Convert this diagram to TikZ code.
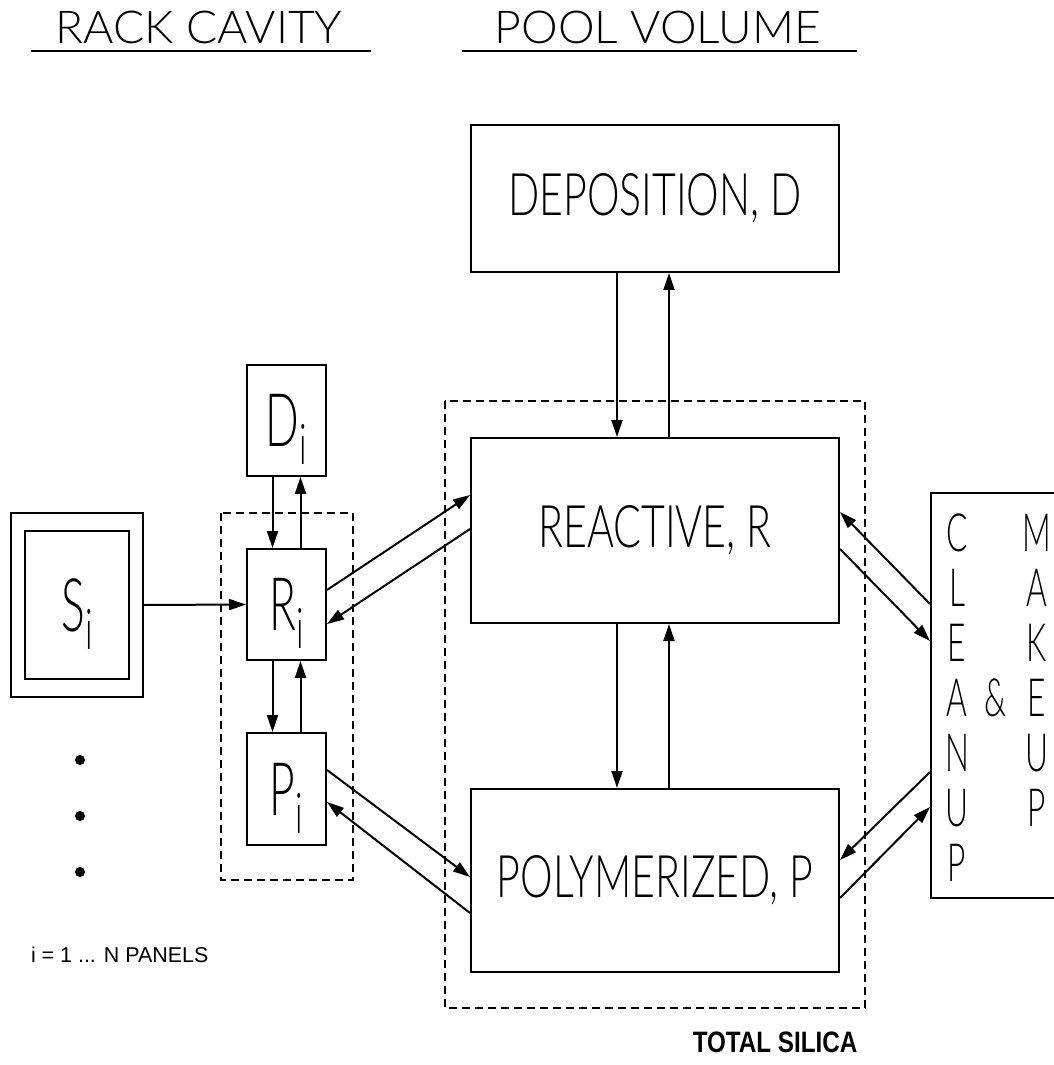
\documentclass[tikz,border=0pt]{standalone}
\usepackage{fontspec}
\setmainfont{Liberation Sans}
\newfontfamily\hdrfont{Lato Light}[FakeStretch=1.02]
\newfontfamily\boxfont{Lato Light}[FakeStretch=0.7]
\newfontfamily\letfont{Lato Light}[FakeStretch=0.6]
\newfontfamily\boldfont{Liberation Sans Bold}[FakeStretch=0.82]
\usetikzlibrary{arrows.meta,positioning}
\newcommand\lowi{\smash{\raisebox{-1.8mm}{\fontsize{16}{16}\selectfont i}}}

\begin{document}
\begin{tikzpicture}[x=0.1mm, y=-0.1mm, line width=0.2mm, >={Triangle[length=1.7mm,width=1.1mm]}]
\tikzset{blk/.style={draw, minimum width=36.8mm, inner sep=0pt, font=\boxfont\fontsize{16.7}{18}\selectfont}}
\tikzset{sbox/.style={draw, minimum width=7.9mm, minimum height=11.1mm, inner sep=0pt, font=\letfont\fontsize{21}{22}\selectfont}}
\tikzset{grp/.style={draw, line width=0.15mm, dash pattern=on 0.8mm off 0.5mm}}
\tikzset{dot/.style={circle, fill, minimum size=1mm, inner sep=0pt}}
\tikzset{cuword/.style={align=center, anchor=north, inner sep=0pt, font=\letfont\fontsize{15}{15.65}\selectfont}}
\useasboundingbox (0,0) rectangle (1053,1065);
% headings
\node[font=\hdrfont\fontsize{12.9}{14}\selectfont] (rack) at (199,27) {RACK CAVITY};
\node[font=\hdrfont\fontsize{12.9}{14}\selectfont] (pool) at (658,27) {POOL VOLUME};
\draw (31,51) -- (371,51);
\draw (462,51) -- (857,51);
% groups
\draw[grp] (221,513) rectangle (353,880);
\draw[grp] (445,401) rectangle (865,1008);
% pool volume
\node[blk, minimum height=14.7mm] (dep) at (655,198.5) {DEPOSITION, D};
\node[blk, minimum height=18.5mm] (reac) at (655,530.5) {REACTIVE, R};
\node[blk, minimum height=18.3mm] (poly) at (655,880.5) {POLYMERIZED, P};
% rack cavity
\node[sbox] (di) at (286.5,420.5) {D\lowi};
\node[sbox] (ri) at (286.5,604.5) {R\lowi};
\node[sbox, minimum height=11.2mm] (pi) at (286.5,789) {P\lowi};
\node[draw, minimum width=13.2mm, minimum height=18.4mm] (si) at (77,605) {};
\node[sbox, minimum width=10.4mm, minimum height=14.8mm] (siin) at (77,605) {S\lowi};
\node[dot] (d1) at (80,760) {};
\node[dot] (d2) at (80,816) {};
\node[dot] (d3) at (80,872) {};
\node[anchor=west, inner sep=0pt, font=\fontsize{6.1}{7}\selectfont] (npan) at (30,955) {i = 1 ... N PANELS};
% cleanup and makeup
\node[draw, minimum width=13.8mm, minimum height=40.5mm] (cu) at (1000,695.5) {};
\node[cuword] (clean) at (957,513) {C\\L\\E\\A\\N\\U\\P};
\node[cuword] (make) at (1037,513) {M\\A\\K\\E\\U\\P};
\node[font=\letfont\fontsize{15}{16}\selectfont, inner sep=0pt] (amp) at (996,698) {\&};
\node[font=\boldfont\fontsize{8.4}{10}\selectfont] (tot) at (775,1042) {TOTAL SILICA};
% flows
\draw[->] ([xshift=-3.8mm]dep.south) -- ([xshift=-3.8mm]reac.north);
\draw[->] ([xshift=1.4mm]reac.north) -- ([xshift=1.4mm]dep.south);
\draw[->] ([xshift=-3.8mm]reac.south) -- ([xshift=-3.8mm]poly.north);
\draw[->] ([xshift=1.4mm]poly.north) -- ([xshift=1.4mm]reac.south);
\draw[->] ([xshift=-1.4mm]di.south) -- ([xshift=-1.4mm]ri.north);
\draw[->] ([xshift=1.4mm]ri.north) -- ([xshift=1.4mm]di.south);
\draw[->] ([xshift=-1.4mm]ri.south) -- ([xshift=-1.4mm]pi.north);
\draw[->] ([xshift=1.4mm]pi.north) -- ([xshift=1.4mm]ri.south);
\draw[->] (si.east) -- (ri.west);
\draw[->] ([yshift=1.45mm]ri.east) -- ([yshift=3.55mm]reac.west);
\draw[->] ([yshift=0.15mm]reac.west) -- ([yshift=-1.95mm]ri.east);
\draw[->] ([yshift=1.9mm]pi.east) -- ([yshift=0.35mm]poly.west);
\draw[->] ([yshift=-3.25mm]poly.west) -- ([yshift=-1.3mm]pi.east);
\draw[->] ([yshift=9.15mm]cu.west) -- ([yshift=1.85mm]reac.east);
\draw[->] ([yshift=-1.85mm]reac.east) -- ([yshift=5.45mm]cu.west);
\draw[->] ([yshift=-7.65mm]cu.west) -- ([yshift=2.05mm]poly.east);
\draw[->] ([yshift=-1.75mm]poly.east) -- ([yshift=-11.15mm]cu.west);
\end{tikzpicture}
\end{document}
